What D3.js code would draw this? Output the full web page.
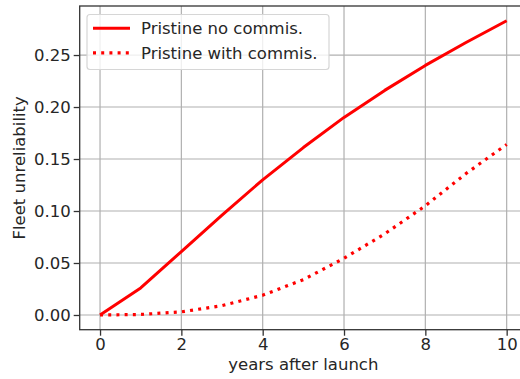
<!DOCTYPE html>
<html>
<head>
<meta charset="utf-8">
<script src="https://cdn.jsdelivr.net/npm/d3@7"></script>
<style>
  body { margin: 0; background: #fff; }
  svg { display: block; font-family: "DejaVu Sans", sans-serif; }
  .grid line { stroke: #b0b0b0; stroke-width: 1.2; }
  .axis path, .axis line { stroke: #333; stroke-width: 1.3; }
  .axis text { fill: #262626; font-size: 16.5px; font-family: "DejaVu Sans", sans-serif; }
</style>
</head>
<body>
<svg id="chart" width="520" height="379"></svg>
<script>
// years after launch
var years = [0, 1, 2, 3, 4, 5, 6, 7, 8, 9, 10];
// fleet unreliability
var noCommis = [0, 0.026, 0.061, 0.096, 0.130, 0.161, 0.190, 0.216, 0.240, 0.262, 0.283];
var withCommis = [0, 0.0005, 0.003, 0.009, 0.019, 0.034, 0.0545, 0.078, 0.105, 0.136, 0.164];
var xTicks = [0, 2, 4, 6, 8, 10];
var yTicks = [0, 0.05, 0.10, 0.15, 0.20, 0.25];
var seriesNames = ["Pristine no commis.", "Pristine with commis."];

var svg = d3.select("#chart");

var x = d3.scaleLinear()
    .domain([-0.5, 10.5])
    .range([79.7, 527]);

var y = d3.scaleLinear()
    .domain([-0.01415, 0.29715])
    .range([329.7, 6]);

// grid
var grid = svg.append("g").attr("class", "grid");
grid.selectAll("line.gx")
    .data(xTicks)
    .enter().append("line")
    .attr("x1", function (d) { return x(d); })
    .attr("x2", function (d) { return x(d); })
    .attr("y1", y.range()[0])
    .attr("y2", y.range()[1]);
grid.selectAll("line.gy")
    .data(yTicks)
    .enter().append("line")
    .attr("class", "gy")
    .attr("x1", x.range()[0])
    .attr("x2", x.range()[1])
    .attr("y1", function (d) { return y(d); })
    .attr("y2", function (d) { return y(d); });

// lines
var line = d3.line()
    .x(function (d, i) { return x(years[i]); })
    .y(function (d) { return y(d); });

svg.append("path")
    .datum(noCommis)
    .attr("fill", "none")
    .attr("stroke", "#ff0000")
    .attr("stroke-width", 3)
    .attr("stroke-linejoin", "round")
    .attr("d", line);

svg.append("path")
    .datum(withCommis)
    .attr("fill", "none")
    .attr("stroke", "#ff0000")
    .attr("stroke-width", 3.2)
    .attr("stroke-dasharray", "3,5.2")
    .attr("d", line);

// frame
svg.append("rect")
    .attr("x", x.range()[0])
    .attr("y", y.range()[1])
    .attr("width", x.range()[1] - x.range()[0])
    .attr("height", y.range()[0] - y.range()[1])
    .attr("fill", "none")
    .attr("stroke", "#333")
    .attr("stroke-width", 1.3);

// axes
svg.append("g")
    .attr("class", "axis")
    .attr("transform", "translate(0," + y.range()[0] + ")")
    .call(d3.axisBottom(x).tickValues(xTicks).tickFormat(d3.format("d")).tickSize(6).tickPadding(3))
    .call(function (g) { g.select(".domain").remove(); });

svg.append("g")
    .attr("class", "axis")
    .attr("transform", "translate(" + x.range()[0] + ",0)")
    .call(d3.axisLeft(y).tickValues(yTicks).tickFormat(d3.format(".2f")).tickSize(6).tickPadding(3))
    .call(function (g) { g.select(".domain").remove(); });

// axis labels
svg.append("text")
    .attr("x", (x(0) + x(10)) / 2)
    .attr("y", 370)
    .attr("text-anchor", "middle")
    .attr("fill", "#262626")
    .style("font-size", "16.5px")
    .text("years after launch");

svg.append("text")
    .attr("transform", "translate(25," + (y.range()[0] + y.range()[1]) / 2 + ") rotate(-90)")
    .attr("text-anchor", "middle")
    .attr("fill", "#262626")
    .style("font-size", "16.5px")
    .text("Fleet unreliability");

// legend
var legend = svg.append("g");
legend.append("rect")
    .attr("x", 87)
    .attr("y", 14.5)
    .attr("width", 242)
    .attr("height", 55)
    .attr("rx", 3)
    .attr("fill", "#fff")
    .attr("fill-opacity", 0.8)
    .attr("stroke", "#d6d6d6")
    .attr("stroke-width", 1.2);

var rows = legend.selectAll("g.row")
    .data(seriesNames)
    .enter().append("g")
    .attr("transform", function (d, i) { return "translate(0," + (28.3 + i * 24.5) + ")"; });

rows.append("line")
    .attr("x1", 93)
    .attr("x2", 130)
    .attr("stroke", "#ff0000")
    .attr("stroke-width", function (d, i) { return i === 0 ? 3 : 3.2; })
    .attr("stroke-dasharray", function (d, i) { return i === 0 ? null : "3,5.2"; });

rows.append("text")
    .attr("x", 141)
    .attr("y", 6)
    .attr("fill", "#262626")
    .style("font-size", "16.5px")
    .text(function (d) { return d; });
</script>
</body>
</html>
